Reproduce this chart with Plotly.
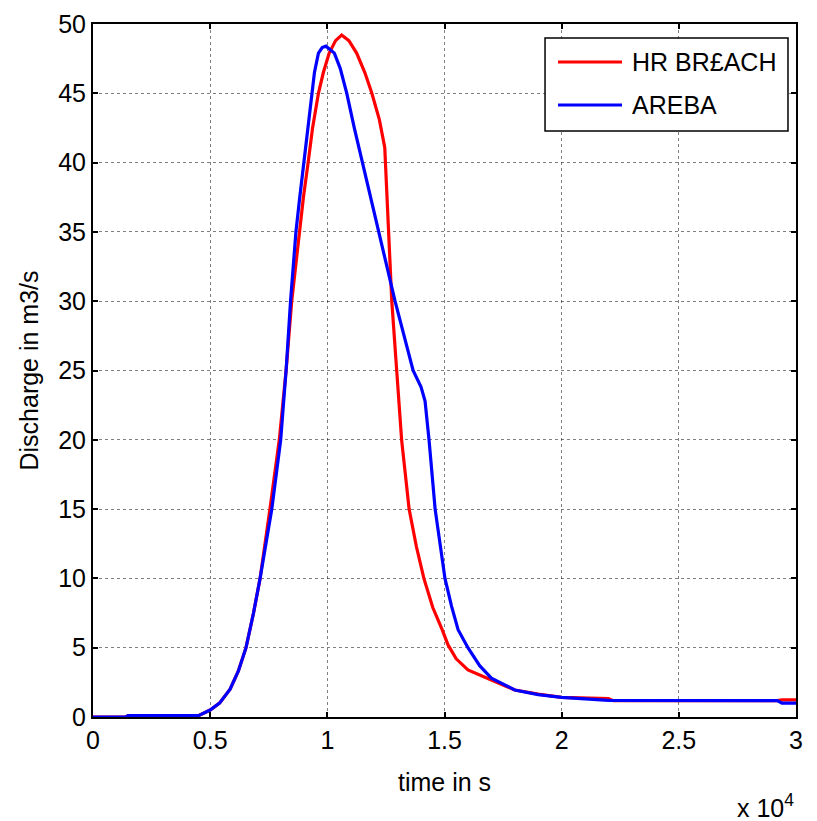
import plotly.graph_objects as go

# time in units of 1e4 s, discharge in m3/s
red_t = [0, 0.14, 0.15, 0.45, 0.5, 0.54, 0.585, 0.62, 0.653, 0.685, 0.713, 0.735, 0.755, 0.795,
         0.824, 0.848, 0.881, 0.898, 0.918, 0.937, 0.962, 0.983, 1.008, 1.035, 1.061, 1.092,
         1.125, 1.160, 1.190, 1.222, 1.245, 1.253, 1.263, 1.275, 1.296, 1.317, 1.349, 1.38,
         1.412, 1.45, 1.49, 1.515, 1.55, 1.6, 1.7, 1.8, 1.9, 2.0, 2.2, 2.22, 2.92, 2.94, 3.0]
red_q = [0, 0, 0.1, 0.1, 0.5, 1.0, 2.0, 3.3, 5, 7.5, 10, 12.5, 15, 20,
         25, 30, 35, 37.5, 40, 42.5, 45, 46.5, 47.9, 48.8, 49.2, 48.8,
         47.9, 46.5, 45, 43.1, 41.1, 38.3, 35, 30, 25, 20, 15, 12.3,
         10, 7.9, 6.3, 5.2, 4.2, 3.4, 2.67, 1.95, 1.65, 1.42, 1.32, 1.18, 1.18, 1.23, 1.23]

blue_t = [0, 0.14, 0.15, 0.45, 0.5, 0.54, 0.585, 0.62, 0.653, 0.685, 0.713, 0.738, 0.763, 0.801,
          0.824, 0.843, 0.866, 0.881, 0.900, 0.916, 0.933, 0.945, 0.962, 0.978, 0.994, 1.010,
          1.030, 1.055, 1.083, 1.115, 1.150, 1.170, 1.222, 1.289, 1.366, 1.40, 1.417, 1.434,
          1.46, 1.502, 1.53, 1.558, 1.6, 1.65, 1.7, 1.8, 1.9, 2.0, 2.2, 2.92, 2.94, 3.0]
blue_q = [0, 0, 0.1, 0.1, 0.5, 1.0, 2.0, 3.3, 5, 7.5, 10, 12.5, 15, 20,
          25, 30, 35, 37.3, 40, 42.5, 45, 46.5, 47.9, 48.3, 48.4, 48.2,
          47.9, 46.8, 45, 42.5, 40, 38.6, 35, 30, 25, 23.8, 22.8, 20,
          15, 10, 8.0, 6.3, 5, 3.7, 2.8, 1.95, 1.62, 1.42, 1.2, 1.18, 1.0, 1.0]

x_ticks = [0, 0.5, 1, 1.5, 2, 2.5, 3]
x_tick_labels = ["0", "0.5", "1", "1.5", "2", "2.5", "3"]
y_ticks = list(range(0, 51, 5))

series_names = ["HR BR£ACH", "AREBA"]
series_colors = ["#ff0000", "#0000ff"]

FONT = "Liberation Sans, Arial, sans-serif"

fig = go.Figure()
fig.add_trace(go.Scatter(x=[t * 1e4 for t in red_t], y=red_q, mode="lines",
                         name=series_names[0], line=dict(color=series_colors[0], width=3.2)))
fig.add_trace(go.Scatter(x=[t * 1e4 for t in blue_t], y=blue_q, mode="lines",
                         name=series_names[1], line=dict(color=series_colors[1], width=3.2)))

axis_common = dict(
    showline=True, linecolor="black", linewidth=2, mirror="allticks",
    ticks="inside", ticklen=5, tickwidth=1.5, tickcolor="black",
    showgrid=True, gridcolor="rgba(0,0,0,0.5)", gridwidth=1, griddash="dot",
    zeroline=False, automargin=False,
    tickfont=dict(family=FONT, size=25, color="black"),
)

fig.update_xaxes(range=[0, 3e4], tickvals=[v * 1e4 for v in x_ticks], ticktext=x_tick_labels,
                 title=dict(text="time in s", font=dict(family=FONT, size=25, color="black"), standoff=20),
                 **axis_common)
fig.update_yaxes(range=[0, 50], tickvals=y_ticks,
                 title=dict(text="Discharge in m3/s", font=dict(family=FONT, size=25, color="black"), standoff=12),
                 **axis_common)

# legend drawn manually (MATLAB style)
shapes = [
    dict(type="rect", xref="paper", yref="paper", x0=0.643, x1=0.9886, y0=0.8456, y1=0.9798,
         line=dict(color="black", width=1.5), fillcolor="white", layer="above"),
    dict(type="line", xref="paper", yref="paper", x0=0.6615, x1=0.7525, y0=0.9452, y1=0.9452,
         line=dict(color=series_colors[0], width=3.2), layer="above"),
    dict(type="line", xref="paper", yref="paper", x0=0.6615, x1=0.7525, y0=0.8831, y1=0.8831,
         line=dict(color=series_colors[1], width=3.2), layer="above"),
]
annotations = [
    dict(xref="paper", yref="paper", x=0.7639, y=0.9452, text=series_names[0], showarrow=False,
         xanchor="left", yanchor="middle", font=dict(family=FONT, size=25, color="black")),
    dict(xref="paper", yref="paper", x=0.7639, y=0.8831, text=series_names[1], showarrow=False,
         xanchor="left", yanchor="middle", font=dict(family=FONT, size=25, color="black")),
    dict(xref="paper", yref="paper", x=1.0, y=-0.128, text="x 10<sup>4</sup>", showarrow=False,
         xanchor="right", yanchor="middle", font=dict(family=FONT, size=25, color="black")),
]

# page body has an 8px margin, so the figure is drawn 8px in and 8px smaller
fig.update_layout(
    width=809, height=813,
    margin=dict(l=85, r=21, t=16, b=104),
    paper_bgcolor="white", plot_bgcolor="white",
    showlegend=False, shapes=shapes, annotations=annotations,
    font=dict(family=FONT, size=25, color="black"),
)

fig.write_html("out.html")
